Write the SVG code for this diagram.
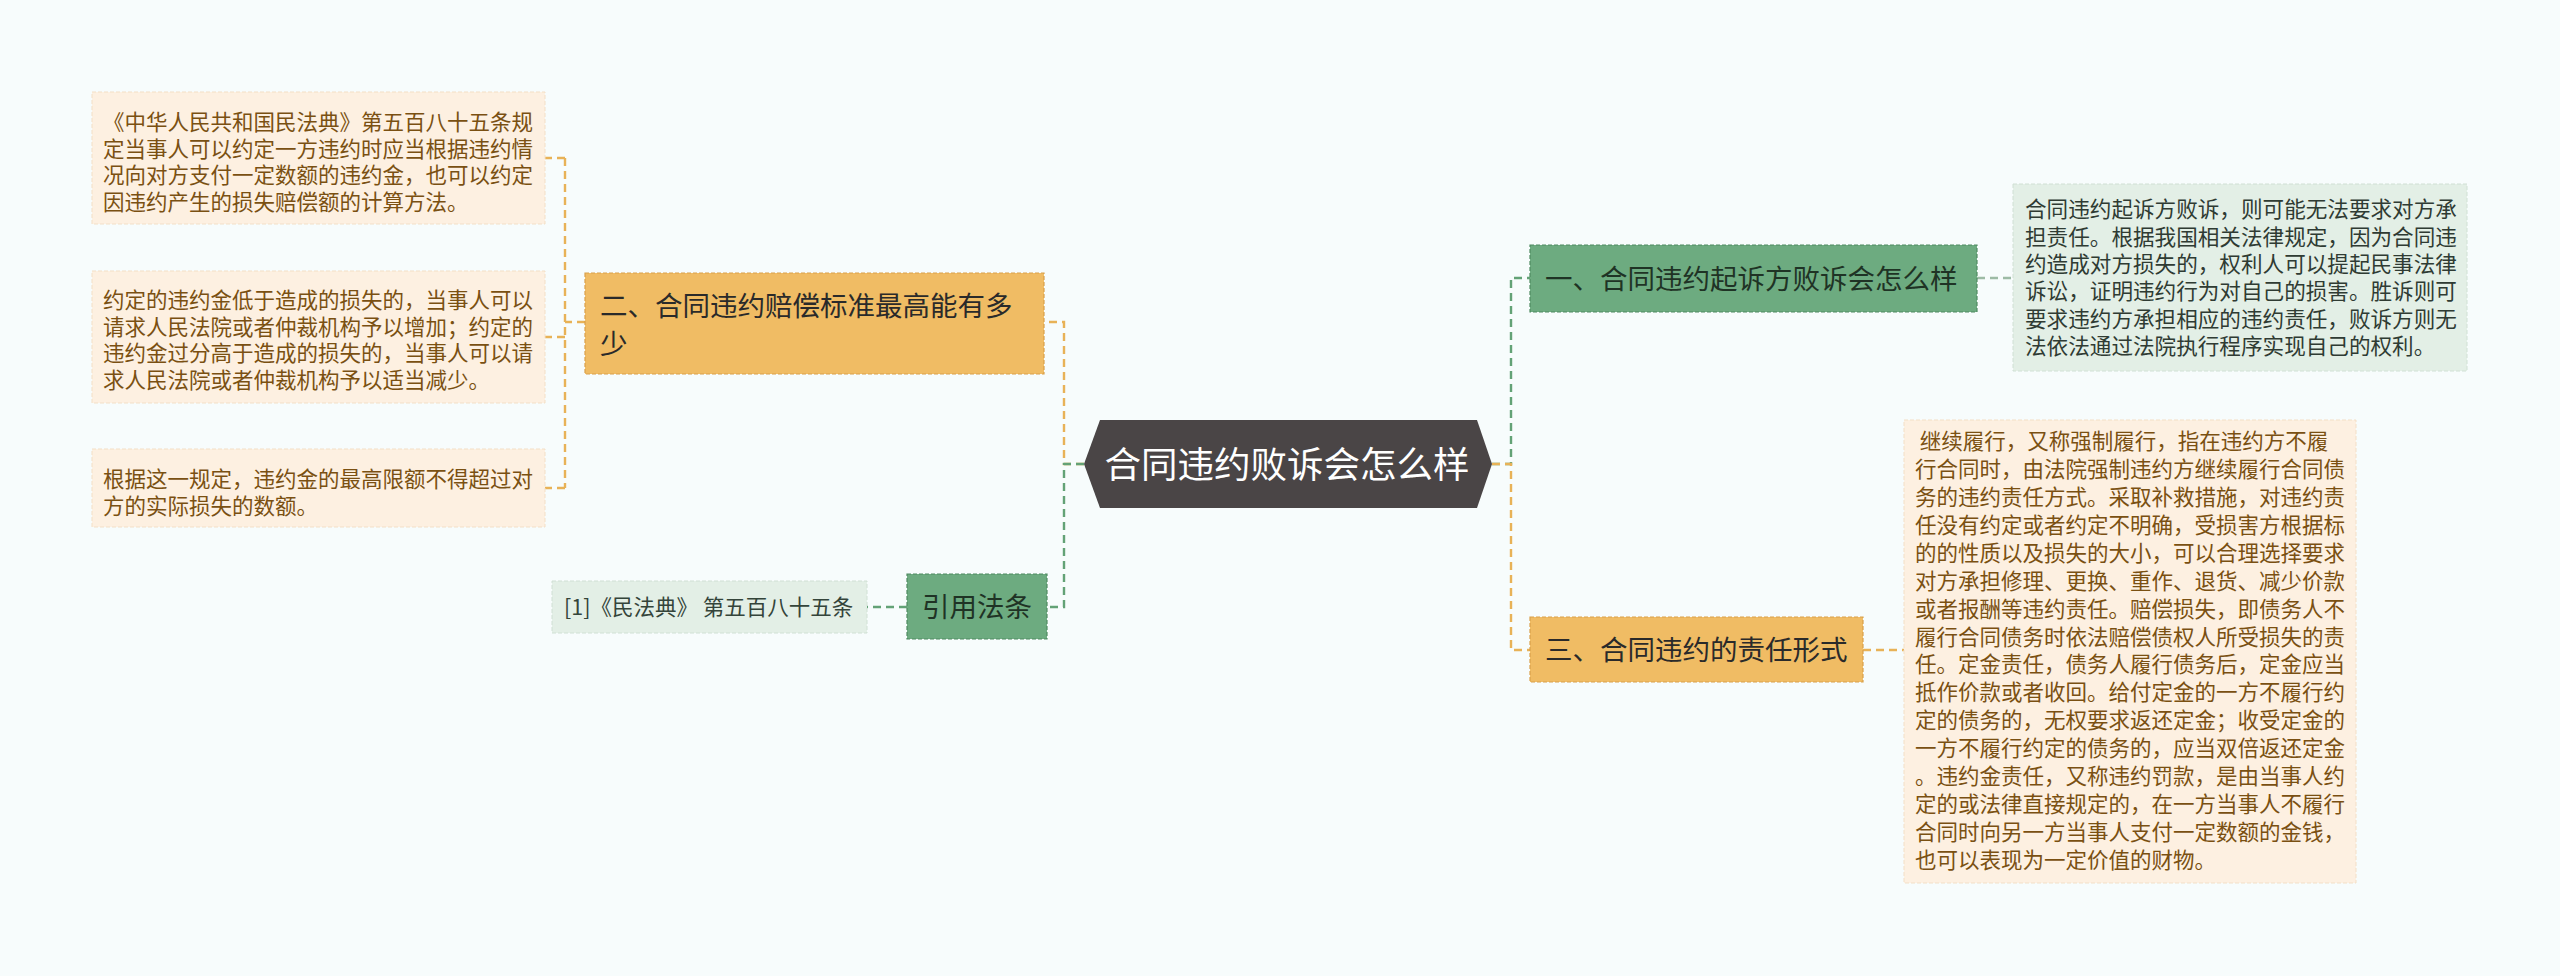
<svg xmlns="http://www.w3.org/2000/svg" width="2560" height="976" viewBox="0 0 2560 976">
<style>
text{font-family:"Noto Sans CJK SC","Noto Sans",sans-serif}
.conO{fill:none;stroke:#E8B257;stroke-width:2.4;stroke-dasharray:8 5}
.conG{fill:none;stroke:#63A276;stroke-width:2.4;stroke-dasharray:8 5}
.conL{fill:none;stroke:#9DBBA5;stroke-width:2.4;stroke-dasharray:8 5}
.nodeO{fill:#F0BC64;stroke:#D9A04A;stroke-width:1.2;stroke-dasharray:4 2}
.nodeG{fill:#6DAB80;stroke:#4F8A60;stroke-width:1.2;stroke-dasharray:4 2}
.boxO{fill:#FDF0E1;stroke:#F3DFC6;stroke-width:1;stroke-dasharray:4 2}
.boxG{fill:#E3EFE6;stroke:#D0E0D4;stroke-width:1;stroke-dasharray:4 2}
.tO{fill:#7A5012;font-size:21.5px}
.tG{fill:#2F3B33;font-size:21.6px}
.tN{fill:#2A2A2A;font-size:27.5px}
.tNg{fill:#1F3325;font-size:27.5px}
</style>
<rect x="0" y="0" width="2560" height="976" fill="#F7FCFC"/>
<g id="connectors">
<path class="conO" d="M1084,464 H1064 V322 H1044"/>
<path class="conO" d="M585,322 H565"/>
<path class="conO" d="M565,158 V488"/>
<path class="conO" d="M565,158 H545"/>
<path class="conO" d="M565,337 H545"/>
<path class="conO" d="M565,488 H545"/>
<path class="conG" d="M1084,464 H1064 V607 H1047"/>
<path class="conG" d="M907,607 H867"/>
<path class="conG" d="M1492,464 H1511 V278 H1530"/>
<path class="conO" d="M1492,464 H1511 V650 H1530"/>
<path class="conL" d="M1977,278 H2013"/>
<path class="conO" d="M1863,650 H1904"/>
</g>
<g id="center">
<polygon points="1100,420 1477,420 1492,464 1477,508 1100,508 1084,464" fill="#4A4546"/>
<text x="1287" y="478" text-anchor="middle" fill="#FFFFFF" font-size="36.5px">合同违约败诉会怎么样</text>
</g>
<g id="node2">
<rect class="nodeO" x="585" y="273" width="459" height="101"/>
<text class="tN"><tspan x="600" y="315.5">二、合同违约赔偿标准最高能有多</tspan><tspan x="600" y="353.5">少</tspan></text>
</g>
<g id="box2a">
<rect class="boxO" x="92" y="92" width="453" height="132"/>
<text class="tO"><tspan x="103" y="130">《中华人民共和国民法典》第五百八十五条规</tspan><tspan x="103" y="156.7">定当事人可以约定一方违约时应当根据违约情</tspan><tspan x="103" y="183.3">况向对方支付一定数额的违约金，也可以约定</tspan><tspan x="103" y="210">因违约产生的损失赔偿额的计算方法。</tspan></text>
</g>
<g id="box2b">
<rect class="boxO" x="92" y="271" width="453" height="132"/>
<text class="tO"><tspan x="103" y="308">约定的违约金低于造成的损失的，当事人可以</tspan><tspan x="103" y="334.5">请求人民法院或者仲裁机构予以增加；约定的</tspan><tspan x="103" y="361">违约金过分高于造成的损失的，当事人可以请</tspan><tspan x="103" y="387.5">求人民法院或者仲裁机构予以适当减少。</tspan></text>
</g>
<g id="box2c">
<rect class="boxO" x="92" y="449" width="453" height="78"/>
<text class="tO"><tspan x="103" y="487">根据这一规定，违约金的最高限额不得超过对</tspan><tspan x="103" y="513.5">方的实际损失的数额。</tspan></text>
</g>
<g id="nodeRef">
<rect class="nodeG" x="907" y="574" width="140" height="65"/>
<text class="tNg" x="922" y="617">引用法条</text>
</g>
<g id="boxRef">
<rect class="boxG" x="552" y="581" width="315" height="52"/>
<text x="564" y="615" fill="#34443A" font-size="21.5px">[1]《民法典》 第五百八十五条</text>
</g>
<g id="node1">
<rect class="nodeG" x="1530" y="245" width="447" height="67"/>
<text class="tNg" x="1545" y="288.5">一、合同违约起诉方败诉会怎么样</text>
</g>
<g id="box1">
<rect class="boxG" x="2013" y="184" width="454" height="187"/>
<text class="tG"><tspan x="2025" y="217.2">合同违约起诉方败诉，则可能无法要求对方承</tspan><tspan x="2025" y="244.6">担责任。根据我国相关法律规定，因为合同违</tspan><tspan x="2025" y="272">约造成对方损失的，权利人可以提起民事法律</tspan><tspan x="2025" y="299.4">诉讼，证明违约行为对自己的损害。胜诉则可</tspan><tspan x="2025" y="326.8">要求违约方承担相应的违约责任，败诉方则无</tspan><tspan x="2025" y="354.2">法依法通过法院执行程序实现自己的权利。</tspan></text>
</g>
<g id="node3">
<rect class="nodeO" x="1530" y="617" width="333" height="65"/>
<text class="tN" x="1545" y="660">三、合同违约的责任形式</text>
</g>
<g id="box3">
<rect class="boxO" x="1904" y="420" width="452" height="463"/>
<text class="tO" font-size="21.6px"><tspan x="1915" y="449">&#160;继续履行，又称强制履行，指在违约方不履</tspan><tspan x="1915" y="476.9">行合同时，由法院强制违约方继续履行合同债</tspan><tspan x="1915" y="504.9">务的违约责任方式。采取补救措施，对违约责</tspan><tspan x="1915" y="532.8">任没有约定或者约定不明确，受损害方根据标</tspan><tspan x="1915" y="560.7">的的性质以及损失的大小，可以合理选择要求</tspan><tspan x="1915" y="588.6">对方承担修理、更换、重作、退货、减少价款</tspan><tspan x="1915" y="616.6">或者报酬等违约责任。赔偿损失，即债务人不</tspan><tspan x="1915" y="644.5">履行合同债务时依法赔偿债权人所受损失的责</tspan><tspan x="1915" y="672.4">任。定金责任，债务人履行债务后，定金应当</tspan><tspan x="1915" y="700.4">抵作价款或者收回。给付定金的一方不履行约</tspan><tspan x="1915" y="728.3">定的债务的，无权要求返还定金；收受定金的</tspan><tspan x="1915" y="756.2">一方不履行约定的债务的，应当双倍返还定金</tspan><tspan x="1915" y="784.1">。违约金责任，又称违约罚款，是由当事人约</tspan><tspan x="1915" y="812.1">定的或法律直接规定的，在一方当事人不履行</tspan><tspan x="1915" y="840">合同时向另一方当事人支付一定数额的金钱，</tspan><tspan x="1915" y="868">也可以表现为一定价值的财物。</tspan></text>
</g>
</svg>
